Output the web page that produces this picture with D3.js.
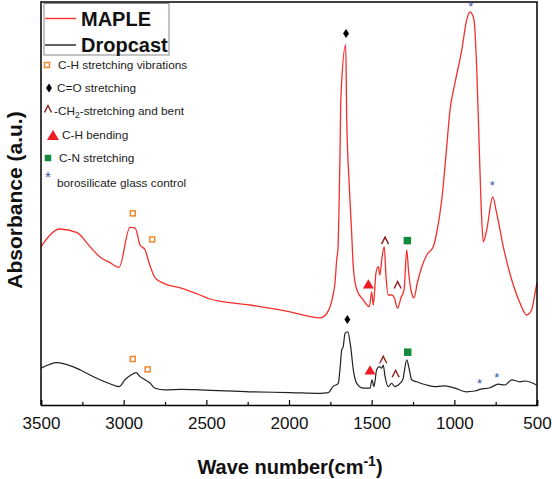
<!DOCTYPE html>
<html><head><meta charset="utf-8">
<script src="https://cdn.jsdelivr.net/npm/d3@7"></script>
<style>body{margin:0;background:#fff}svg{display:block;font-family:"Liberation Sans",Arial,sans-serif}</style>
</head><body>
<script>
// Wavenumber (cm-1) and absorbance (a.u.)
const mapleWave = [3500,3385,3282,3204,3143,3083,3028,2962,2931,2901,2871,2842,2810,2750,2653,2538,2478,2236,1994,1812,1770,1740,1722,1710,1704,1699,1692,1686,1657,1651,1635,1621,1611,1590,1551,1514,1500,1490,1474,1460,1450,1439,1424,1413,1400,1379,1363,1343,1323,1304,1288,1276,1258,1244,1224,1197,1167,1127,1107,1076,1046,1026,996,955,925,905,881,865,849,835,825,804,768,744,704,653,603,562,532,512,500];
const mapleAbs = [39.6,44,43.1,39.6,37,35.6,34.4,44.4,44.3,40,38.8,35,31.8,30.3,29.2,27.5,26.5,25,23.3,21.8,23,26.3,30.5,37,38.8,46.3,61.3,77,90,72,54.5,43,34.5,28.8,26.3,24.6,28.3,25,33,34.6,32.5,36.3,39.6,32,27.5,27.5,26.8,24.2,26.8,28.8,38.8,33,28,26.8,30.5,34.5,37.5,39.6,43,51.3,64.6,73.8,80.5,88.8,96.3,98.3,96.3,84.6,63.8,47,40.8,43.8,52,48,39.6,31.3,25.5,22.5,23.8,28,30.5];
const dropWave = [3500,3403,3264,3204,3143,3083,3028,2992,2956,2925,2901,2871,2841,2810,2750,2653,2538,2236,1994,1812,1762,1734,1702,1692,1681,1672,1661,1645,1627,1611,1590,1551,1510,1498,1486,1470,1454,1439,1430,1419,1399,1379,1359,1329,1312,1288,1272,1258,1228,1167,1107,1056,996,929,875,845,784,734,694,653,603,573,502];
const dropAbs = [9.2,10.6,8.8,7.5,6.3,5.3,4.6,6.3,7.5,8.1,7.1,6.3,5.5,4.2,3.8,3.9,3.8,3.3,3.1,2.9,3.1,4.6,5.4,8.8,13.8,14.6,17.9,18.3,14.6,8.8,5.4,4.2,4.2,6.3,4.6,8.8,9.6,9.2,10,7.1,4.6,5.4,4.6,5.4,6.3,11.3,8.8,6.3,5.8,5,4.6,4.8,4.2,3.3,3.5,3.9,4.3,5.2,5,6.3,5.8,6,5];

// Band markers: [wavenumber, a.u.]
const chMarks = [[2945,47.9],[2827,41.4],[2945,11.5],[2855,8.9]];
const coMarks = [[1655,92.9],[1647,21.4]];
const ch2Marks = [[1419,41.1],[1343,30],[1430,11.3],[1355,7.8]];
const chBendMarks = [[1520,30.3],[1510,8.8]];
const cnMarks = [[1284,41.1],[1282,13.2]];
const glassMarks = [[901,100],[770,55.3],[847,5.8],[744,7.1]];

const seriesNames = ["MAPLE","Dropcast"];
const seriesColors = ["#f2302c","#222222"];
const xTicks = [3500,3000,2500,2000,1500,1000,500];
const minorTicks = d3.range(3250, 500, -500);
const noteLabels = ["C-H stretching vibrations","C=O stretching","-CH2-stretching and bent","C-H bending","C-N stretching","borosilicate glass control"];

const W = 552, H = 479;
const svg = d3.select("body").append("svg").attr("width", W).attr("height", H);
const x = d3.scaleLinear().domain([3500, 500]).range([41, 537]);
const y = d3.scaleLinear().domain([0, 100.75]).range([405, 2]);

const line = d3.line().x(d => x(d[0])).y(d => y(d[1])).curve(d3.curveMonotoneX);
const maple = mapleWave.map((w, i) => [w, mapleAbs[i]]);
const drop = dropWave.map((w, i) => [w, dropAbs[i]]);

svg.append("path").datum(drop).attr("d", line).attr("fill", "none").attr("stroke", seriesColors[1]).attr("stroke-width", 1.2);
svg.append("path").datum(maple).attr("d", line).attr("fill", "none").attr("stroke", seriesColors[0]).attr("stroke-width", 1.3);

// frame
svg.append("path").attr("d", `M${x(3500)},${y(0)}V${y(100.75)}H${x(500)}V${y(0)}`).attr("fill", "none").attr("stroke", "#000").attr("stroke-width", 1.5);

// x axis
const xAxis = d3.axisBottom(x).tickValues(xTicks).tickSize(-5).tickPadding(12).tickFormat(d3.format("d"));
const gx = svg.append("g").attr("transform", `translate(0,${y(0)})`).call(xAxis);
gx.select(".domain").attr("stroke-width", 1.6).attr("stroke", "#000");
gx.selectAll(".tick line").attr("stroke-width", 1.2);
gx.selectAll(".tick text").attr("font-size", 17).attr("font-family", '"Liberation Sans",Arial,sans-serif').attr("fill", "#111");
const minorAxis = d3.axisBottom(x).tickValues(minorTicks).tickSize(-3).tickFormat("");
const gm = svg.append("g").attr("transform", `translate(0,${y(0)})`).call(minorAxis);
gm.select(".domain").remove();
gm.selectAll(".tick line").attr("stroke-width", 1.2);

// axis titles
const xt = svg.append("text").attr("x", 290).attr("y", 474).attr("text-anchor", "middle").attr("font-size", 20).attr("font-weight", "bold").attr("fill", "#111");
xt.append("tspan").text("Wave number(cm");
xt.append("tspan").attr("dy", -8).attr("font-size", 14).text("-1");
xt.append("tspan").attr("dy", 8).text(")");
svg.append("text").attr("transform", "translate(22,200) rotate(-90)").attr("text-anchor", "middle").attr("font-size", 21).attr("font-weight", "bold").attr("fill", "#111").text("Absorbance (a.u.)");

// marker drawers
const orange = "#f0892a", caretCol = "#8b1a1a", green = "#138a3e", blue = "#3d55a8";
function sq(g, cx, cy) { g.append("rect").attr("x", cx - 2.5).attr("y", cy - 2.5).attr("width", 5).attr("height", 5).attr("fill", "none").attr("stroke", orange).attr("stroke-width", 1.5); }
function diamond(g, cx, cy) { g.append("path").attr("d", `M${cx},${cy-4.5}L${cx+3},${cy}L${cx},${cy+4.5}L${cx-3},${cy}Z`).attr("fill", "#000"); }
function caret(g, cx, cy) { g.append("path").attr("d", `M${cx-3.5},${cy+3.5}L${cx},${cy-3.5}L${cx+3.5},${cy+3.5}`).attr("fill", "none").attr("stroke", caretCol).attr("stroke-width", 1.4); }
function tri(g, cx, cy, s) { g.append("path").attr("d", `M${cx-s},${cy+s*0.85}L${cx},${cy-s*0.85}L${cx+s},${cy+s*0.85}Z`).attr("fill", "#ee1c24"); }
function gsq(g, cx, cy, s) { g.append("rect").attr("x", cx - s/2).attr("y", cy - s/2).attr("width", s).attr("height", s).attr("fill", green); }
function star(g, cx, cy, fs) { g.append("text").attr("x", cx).attr("y", cy + fs * 0.45).attr("text-anchor", "middle").attr("font-size", fs).attr("fill", blue).text("*"); }

const mg = svg.append("g");
chMarks.forEach(d => sq(mg, x(d[0]), y(d[1])));
coMarks.forEach(d => diamond(mg, x(d[0]), y(d[1])));
ch2Marks.forEach(d => caret(mg, x(d[0]), y(d[1])));
chBendMarks.forEach(d => tri(mg, x(d[0]), y(d[1]), 5.5));
cnMarks.forEach(d => gsq(mg, x(d[0]), y(d[1]), 7.5));
glassMarks.forEach(d => star(mg, x(d[0]), y(d[1]), 13));

// legend box
const lg = svg.append("g");
lg.append("rect").attr("x", 44).attr("y", 3.5).attr("width", 125).attr("height", 51.5).attr("fill", "#fff").attr("stroke", "#888").attr("stroke-width", 1);
seriesNames.forEach((n, i) => {
  const ly = [18.5, 45][i];
  lg.append("line").attr("x1", 45).attr("x2", 76).attr("y1", ly).attr("y2", ly).attr("stroke", seriesColors[i]).attr("stroke-width", 1.4);
  lg.append("text").attr("x", 81).attr("y", ly + 7).attr("font-size", 20).attr("font-weight", "bold").attr("fill", "#111").text(n);
});

// notes
const ng = svg.append("g").attr("font-size", 11.8).attr("fill", "#222");
sq(ng, 47, 65);
ng.append("text").attr("x", 58).attr("y", 69).text(noteLabels[0]);
diamond(ng, 49, 88);
ng.append("text").attr("x", 57).attr("y", 92).text(noteLabels[1]);
caret(ng, 48, 109);
const t3 = ng.append("text").attr("x", 54).attr("y", 115);
t3.append("tspan").text("-CH");
t3.append("tspan").attr("dy", 3).attr("font-size", 8.5).text("2");
t3.append("tspan").attr("dy", -3).text("-stretching and bent");
tri(ng, 53, 135, 6);
ng.append("text").attr("x", 62).attr("y", 139).text(noteLabels[3]);
gsq(ng, 48, 158, 6.5);
ng.append("text").attr("x", 59).attr("y", 162).text(noteLabels[4]);
star(ng, 48, 175, 15);
ng.append("text").attr("x", 57).attr("y", 187).text(noteLabels[5]);
</script>
</body></html>
